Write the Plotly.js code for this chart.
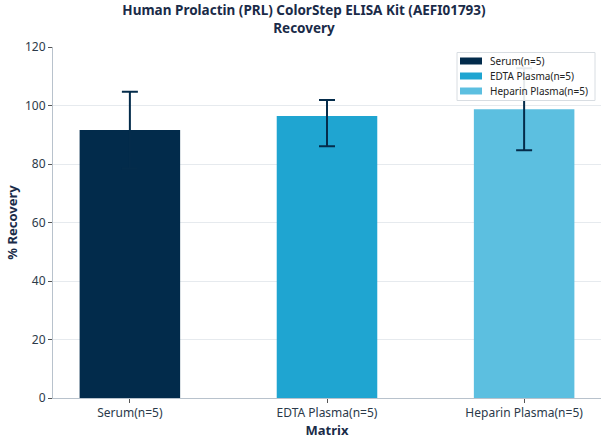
<!DOCTYPE html>
<html>
<head>
<meta charset="utf-8">
<script src="https://cdn.plot.ly/plotly-3.0.1.min.js"></script>
<style>html,body{margin:0;padding:0;background:#fff;}#chart{width:608px;height:444px;}</style>
</head>
<body>
<div id="chart"></div>
<script>
const categories = ["Serum(n=5)", "EDTA Plasma(n=5)", "Heparin Plasma(n=5)"];
const recovery = [91.6, 96.4, 98.7];
const errPlus = [13.1, 5.5, 14.0];
const errMinus = [13.1, 10.3, 14.0];
const colors = ["#022b4b", "#1fa5d1", "#5cbfe0"];
const yTicks = [0, 20, 40, 60, 80, 100, 120];

const traces = categories.map((c, i) => ({
  type: "bar",
  x: [c],
  y: [recovery[i]],
  name: c,
  width: 0.51,
  marker: {color: colors[i], line: {width: 0}},
  error_y: {type: "data", symmetric: false, array: [errPlus[i]], arrayminus: [errMinus[i]],
            color: "#042c4b", thickness: 2, width: 8},
  hoverinfo: "none"
}));

// plot area in pixels (for legend placement)
const L = 53, T = 47, W = 548, H = 351;
const px = v => (v - L) / W;
const py = v => (T + H - v) / H;

const shapes = [{type: "line", xref: "paper", x0: 0, x1: 1, yref: "y", y0: 100, y1: 100,
                 line: {color: "#7cc4cc", width: 1, dash: "dash"}, layer: "below"},
                {type: "rect", xref: "paper", yref: "paper", x0: px(457), x1: px(595), y0: py(52.5), y1: py(100.5),
                 fillcolor: "rgba(255,255,255,0.9)", line: {color: "#d8dde2", width: 1}, layer: "above"}];
const annotations = [];
categories.forEach((c, i) => {
  const cy = 61 + i * 15;
  shapes.push({type: "rect", xref: "paper", yref: "paper", x0: px(460), x1: px(482), y0: py(cy + 3.5), y1: py(cy - 3.5),
               fillcolor: colors[i], line: {width: 0}, layer: "above"});
  annotations.push({xref: "paper", yref: "paper", x: px(488), y: py(cy), xanchor: "left", yanchor: "middle",
                    text: c, showarrow: false, font: {size: 10, color: "#222"}});
});

const layout = {
  width: 608, height: 444,
  margin: {l: 53, r: 7, t: 47, b: 46},
  paper_bgcolor: "#fff", plot_bgcolor: "#fff",
  font: {family: "Noto Sans, Open Sans, sans-serif", color: "#2b3a4a", size: 12},
  title: {text: "<b>Human Prolactin (PRL) ColorStep ELISA Kit (AEFI01793)<br>Recovery</b>",
          x: 0.5, xanchor: "center", yref: "container", y: 0.966, yanchor: "middle",
          font: {size: 13.5, color: "#1a2b48"}},
  barmode: "overlay",
  showlegend: false,
  xaxis: {type: "category", categoryorder: "array", categoryarray: categories,
          range: [-0.39, 2.39], showgrid: false, showline: true, linecolor: "#b8c2cc", linewidth: 1,
          ticks: "outside", ticklen: 4, tickcolor: "#555", zeroline: false,
          tickfont: {size: 12, color: "#2b3a4a"},
          title: {text: "<b>Matrix</b>", standoff: 2, font: {size: 13, color: "#1a2b48"}}},
  yaxis: {range: [0, 120], tickvals: yTicks, ticktext: yTicks.map(String),
          showgrid: true, gridcolor: "#e6eaee", gridwidth: 1,
          showline: true, linecolor: "#b8c2cc", linewidth: 1,
          ticks: "outside", ticklen: 4, tickcolor: "#555", zeroline: false,
          tickfont: {size: 12, color: "#2b3a4a"},
          title: {text: "<b>% Recovery</b>", standoff: 4, font: {size: 13, color: "#1a2b48"}}},
  shapes: shapes,
  annotations: annotations
};

Plotly.newPlot("chart", traces, layout, {displayModeBar: false, staticPlot: true});
</script>
</body>
</html>
